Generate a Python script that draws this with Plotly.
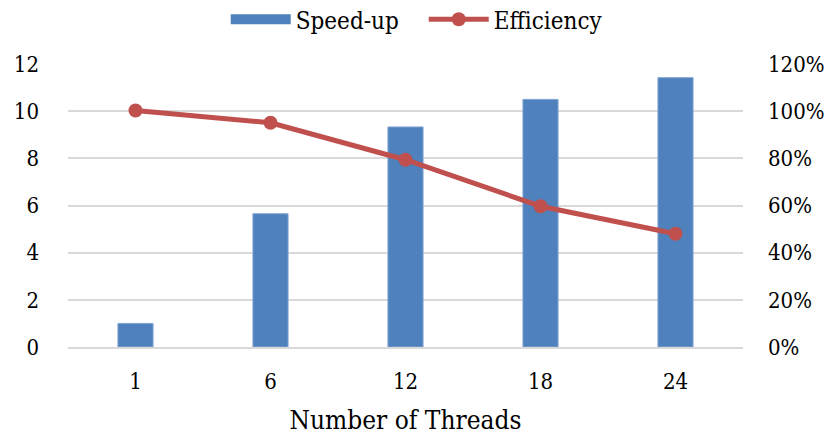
import plotly.graph_objects as go

threads = ["1", "6", "12", "18", "24"]
speedup = [1.0, 5.65, 9.33, 10.5, 11.42]
efficiency = [100.3, 95.1, 79.4, 59.7, 48.0]
left_ticks = [0, 2, 4, 6, 8, 10, 12]
right_ticks = [0, 20, 40, 60, 80, 100, 120]

font_family = "DejaVu Serif Condensed, DejaVu Serif"
bar_color = "#4F81BD"
line_color = "#C0504D"

fig = go.Figure()
fig.add_trace(go.Bar(
    x=threads, y=speedup, name="Speed-up", showlegend=False,
    marker=dict(color=bar_color, line=dict(color="#7fa3d3", width=1)),
    yaxis="y",
))
fig.add_trace(go.Scatter(
    x=[None], y=[None], name="Speed-up", mode="lines",
    line=dict(color=bar_color, width=15), yaxis="y",
))
fig.add_trace(go.Scatter(
    x=threads, y=efficiency, name="Efficiency", mode="lines+markers",
    line=dict(color=line_color, width=5),
    marker=dict(color=line_color, size=14),
    yaxis="y2",
))

fig.update_layout(
    width=836, height=436,
    margin=dict(l=68, r=93, t=64, b=89, autoexpand=False),
    paper_bgcolor="white", plot_bgcolor="white",
    font=dict(family=font_family, size=22, color="#000"),
    bargap=0.74,
    showlegend=True,
    legend=dict(orientation="h", x=0.527, xanchor="center", y=0.955, yanchor="middle",
                yref="container", itemwidth=60, font=dict(size=24),
                entrywidth=123,
                traceorder="normal", tracegroupgap=0),
    xaxis=dict(showgrid=False, showline=True, linecolor="#d9d9d9", linewidth=2,
               ticks="", ticklabelstandoff=14, automargin=False,
               title=dict(text="Number of Threads", standoff=17)),
    yaxis=dict(range=[0, 12], tickvals=left_ticks, showgrid=True, gridcolor="#d9d9d9",
               gridwidth=2, zeroline=False, showline=False, ticks="",
               ticklabelstandoff=28, automargin=False),
    yaxis2=dict(range=[0, 120], tickvals=right_ticks,
                ticktext=[f"{v}%" for v in right_ticks], overlaying="y", side="right",
                showgrid=False, zeroline=False, showline=False, ticks="",
                ticklabelstandoff=24, automargin=False),
)

fig.write_html("out.html")
